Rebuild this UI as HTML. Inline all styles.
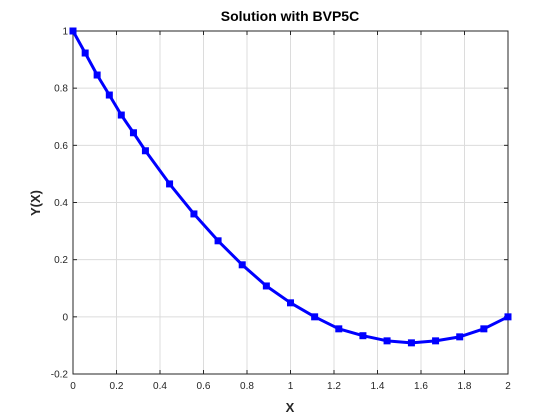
<!DOCTYPE html>
<html><head><meta charset="utf-8"><style>
body{margin:0;background:#fff;}
svg{display:block;font-family:"Liberation Sans","DejaVu Sans",sans-serif;}
</style></head><body>
<svg id="chart" width="560" height="420"></svg>
<script>
const xVals=[0,0.056,0.111,0.167,0.222,0.278,0.333,0.444,0.556,0.667,0.778,0.889,1.0,1.111,1.222,1.333,1.444,1.556,1.667,1.778,1.889,2.0];
const yVals=[1,0.923,0.846,0.776,0.706,0.644,0.581,0.465,0.36,0.266,0.182,0.108,0.049,0,-0.042,-0.066,-0.084,-0.091,-0.084,-0.07,-0.042,0];
const xTicks=[0,0.2,0.4,0.6,0.8,1,1.2,1.4,1.6,1.8,2];
const yTicks=[-0.2,0,0.2,0.4,0.6,0.8,1];
const L=73,R=508,T=31,B=374;
const sx=v=>L+(v-0)/(2-0)*(R-L);
const sy=v=>B-(v+0.2)/1.2*(B-T);
const svg=document.getElementById('chart');
const NS='http://www.w3.org/2000/svg';
function mk(tag,attrs,parent){const e=document.createElementNS(NS,tag);for(const k in attrs)e.setAttribute(k,attrs[k]);(parent||svg).appendChild(e);return e;}
const grid=mk('g',{});


xTicks.forEach(t=>{
 mk('line',{x1:sx(t),x2:sx(t),y1:T,y2:B,stroke:'#dcdcdc','stroke-width':1},grid);
 mk('line',{x1:sx(t),x2:sx(t),y1:B,y2:B-4,stroke:'#262626'},grid);
 mk('line',{x1:sx(t),x2:sx(t),y1:T,y2:T+4,stroke:'#262626'},grid);
 const tx=mk('text',{x:sx(t),y:B+15,'font-size':10,'text-anchor':'middle',fill:'#262626'});
 tx.textContent=String(t);
 
 
});
yTicks.forEach(t=>{
 mk('line',{x1:L,x2:R,y1:sy(t),y2:sy(t),stroke:'#dcdcdc','stroke-width':1},grid);
 mk('line',{x1:L,x2:L+4,y1:sy(t),y2:sy(t),stroke:'#262626'},grid);
 mk('line',{x1:R,x2:R-4,y1:sy(t),y2:sy(t),stroke:'#262626'},grid);
 const tx=mk('text',{x:L-5,y:sy(t)+3.5,'font-size':10,'text-anchor':'end',fill:'#262626'});
 tx.textContent=String(Math.round(t*10)/10);
 
 
});
const box=mk('rect',{x:L,y:T,width:R-L,height:B-T,fill:'none',stroke:'#262626','stroke-width':1});


const pts=xVals.map((x,i)=>sx(x)+','+sy(yVals[i])).join(' ');
const line=mk('polyline',{points:pts,fill:'none',stroke:'#0000ff','stroke-width':3,'stroke-linejoin':'round'});


xVals.forEach((x,i)=>{
 const m=mk('rect',{x:sx(x)-3.5,y:sy(yVals[i])-3.5,width:7,height:7,fill:'#0000ff'});
 
 
});
const title=mk('text',{x:290,y:21,'font-size':14,'font-weight':'bold','text-anchor':'middle',fill:'#000'});
title.textContent='Solution with BVP5C';


const xl=mk('text',{x:290,y:412,'font-size':13,'font-weight':'bold','text-anchor':'middle',fill:'#262626'});
xl.textContent='X';


const yl=mk('text',{x:0,y:0,'font-size':13,'font-weight':'bold','text-anchor':'middle',fill:'#262626',transform:'translate(40,203) rotate(-90)'});
yl.textContent='Y(X)';


</script>
</body></html>
